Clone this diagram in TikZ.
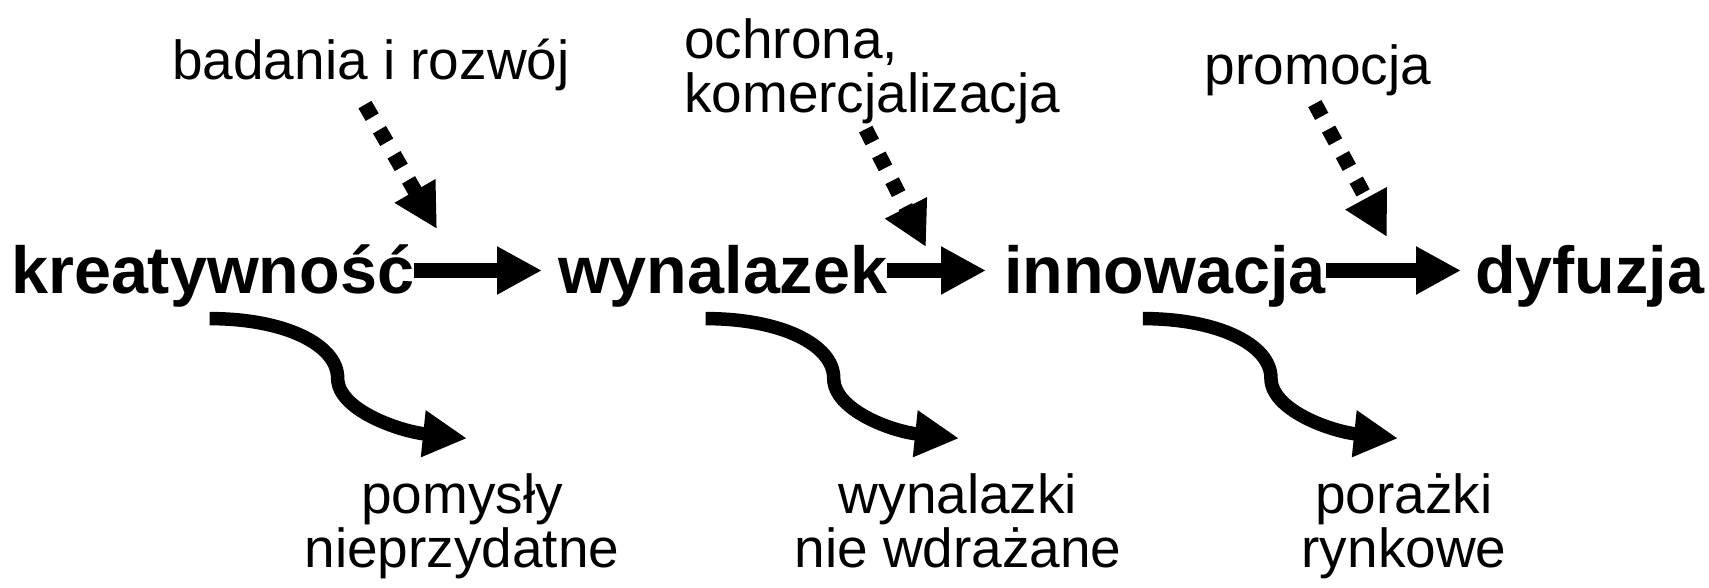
\documentclass[tikz,border=0pt]{standalone}
\usepackage{fontspec}
\setmainfont{Liberation Sans}
\usetikzlibrary{arrows.meta}
\begin{document}
\begin{tikzpicture}[x=1pt,y=1pt,
  main/.style={font=\fontsize{66.5}{70}\selectfont\bfseries, inner sep=0pt, anchor=base west},
  lbl/.style={font=\fontsize{55}{54}\selectfont, inner sep=0pt},
  flow/.style={line width=15.5pt, -{Triangle[length=45pt,width=45pt]}},
  dotarrow/.style={line width=15pt, dash pattern=on 14.5pt off 14.5pt, -{Triangle[length=44pt,width=44pt]}},
  loss/.style={line width=13.5pt, -{Triangle[length=44pt,width=44pt]}}
]
\useasboundingbox (0,0) rectangle (1709,-588);

% main chain
\node[main] (k) at (11,-294) {kreatywność};
\node[main] (w) at (558,-294) {wynalazek};
\node[main] (i) at (1004,-294) {innowacja};
\node[main] (d) at (1475,-294) {dyfuzja};

\draw[flow] ([yshift=23.5pt]k.base east) -- ([xshift=-16pt,yshift=23.5pt]w.base west);
\draw[flow] ([yshift=23.5pt]w.base east) -- ([xshift=-18pt,yshift=23.5pt]i.base west);
\draw[flow] ([yshift=23.5pt]i.base east) -- ([xshift=-14pt,yshift=23.5pt]d.base west);

% top labels (base = last line)
\node[lbl, anchor=base west] (rd) at (172,-80) {badania i rozwój};
\node[lbl, anchor=base west, align=left] (ok) at (684,-113) {ochrona,\\komercjalizacja};
\node[lbl, anchor=base west] (pr) at (1204.5,-85) {promocja};

\coordinate (t1) at (437,-229);
\coordinate (t2) at (926,-247);
\coordinate (t3) at (1387,-237);

\draw[dotarrow] ([shift={(-6pt,-13pt)}]rd.south) -- (t1);
\draw[dotarrow] ([shift={(-6.5pt,-4.5pt)}]ok.south) -- (t2);
\draw[dotarrow] ([shift={(-3pt,-7pt)}]pr.south) -- (t3);

% bottom labels (base = last line)
\node[lbl, anchor=base, align=center] (p1) at (462,-567) {pomysły\\nieprzydatne};
\node[lbl, anchor=base, align=center] (p2) at (958,-567) {wynalazki\\nie wdrażane};
\node[lbl, anchor=base, align=center] (p3) at (1404,-567) {porażki\\rynkowe};

% loss arrows
\draw[loss] ([shift={(-3pt,-10.6pt)}]k.south) .. controls +(76,0) and +(0,33) .. ++(128,-59.5)
  .. controls +(0,-32) and +(-67,7) .. ([shift={(5pt,34.6pt)}]p1.north);
\draw[loss] ([shift={(-17pt,-10.6pt)}]w.south) .. controls +(76,0) and +(0,33) .. ++(128,-59.5)
  .. controls +(0,-32) and +(-67,7) .. ([shift={(1pt,34.6pt)}]p2.north);
\draw[loss] ([shift={(-22pt,-10.6pt)}]i.south) .. controls +(76,0) and +(0,33) .. ++(128,-59.5)
  .. controls +(0,-32) and +(-67,7) .. ([shift={(-6pt,34.6pt)}]p3.north);
\end{tikzpicture}
\end{document}
